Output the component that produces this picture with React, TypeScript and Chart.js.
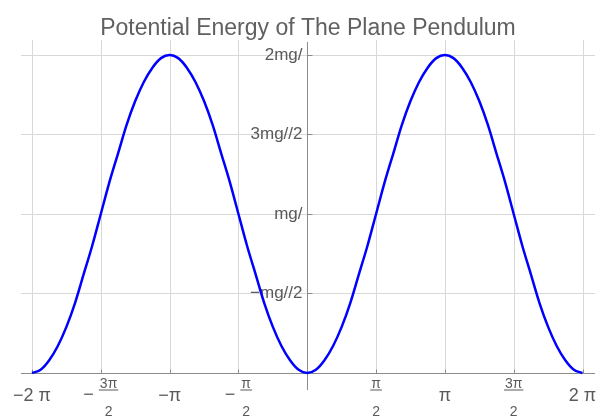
import React, { useEffect, useRef } from "react";
import { Chart, registerables } from "chart.js";

Chart.register(...registerables);

// θ in units of π (step 1/16)
const thetaInPi = [
  -2, -1.9375, -1.875, -1.8125, -1.75, -1.6875, -1.625, -1.5625,
  -1.5, -1.4375, -1.375, -1.3125, -1.25, -1.1875, -1.125, -1.0625,
  -1, -0.9375, -0.875, -0.8125, -0.75, -0.6875, -0.625, -0.5625,
  -0.5, -0.4375, -0.375, -0.3125, -0.25, -0.1875, -0.125, -0.0625,
  0, 0.0625, 0.125, 0.1875, 0.25, 0.3125, 0.375, 0.4375,
  0.5, 0.5625, 0.625, 0.6875, 0.75, 0.8125, 0.875, 0.9375,
  1, 1.0625, 1.125, 1.1875, 1.25, 1.3125, 1.375, 1.4375,
  1.5, 1.5625, 1.625, 1.6875, 1.75, 1.8125, 1.875, 1.9375, 2,
];
// potential energy in units of mgℓ
const energy = [
  0, 0.02, 0.08, 0.17, 0.29, 0.44, 0.62, 0.8,
  1, 1.2, 1.38, 1.56, 1.71, 1.83, 1.92, 1.98,
  2, 1.98, 1.92, 1.83, 1.71, 1.56, 1.38, 1.2,
  1, 0.8, 0.62, 0.44, 0.29, 0.17, 0.08, 0.02,
  0, 0.02, 0.08, 0.17, 0.29, 0.44, 0.62, 0.8,
  1, 1.2, 1.38, 1.56, 1.71, 1.83, 1.92, 1.98,
  2, 1.98, 1.92, 1.83, 1.71, 1.56, 1.38, 1.2,
  1, 0.8, 0.62, 0.44, 0.29, 0.17, 0.08, 0.02, 0,
];

const xTickPi = [-2, -1.5, -1, -0.5, 0.5, 1, 1.5, 2];
const xTickLabels = ["−2 π", "−3π/2", "−π", "−π/2", "π/2", "π", "3π/2", "2 π"];
const yTickValues = [0.5, 1, 1.5, 2];
const yTickLabels = ["−mg//2", "mg/", "3mg//2", "2mg/"];
const titleText = "Potential Energy of The Plane Pendulum";

const FONT = "'Liberation Sans', Arial, sans-serif";
const LABEL_COLOR = "#5a5a5a";
const GRID_COLOR = "#d8d8d8";
const AXIS_COLOR = "#8c8c8c";

const axesPlugin = {
  id: "mmaAxes",
  beforeDatasetsDraw(chart: any) {
    const { ctx, chartArea, scales } = chart;
    const xs = scales.x;
    const ys = scales.y;
    const x0 = Math.round(xs.getPixelForValue(0)) + 0.5;
    const y0 = Math.round(ys.getPixelForValue(0)) + 0.5;
    ctx.save();

    // grid lines
    ctx.strokeStyle = GRID_COLOR;
    ctx.lineWidth = 1;
    xTickPi.forEach((v) => {
      const px = Math.round(xs.getPixelForValue(v * Math.PI)) + 0.5;
      ctx.beginPath();
      ctx.moveTo(px, chartArea.top);
      ctx.lineTo(px, y0);
      ctx.stroke();
    });
    yTickValues.forEach((v) => {
      const py = Math.round(ys.getPixelForValue(v)) + 0.5;
      ctx.beginPath();
      ctx.moveTo(chartArea.left, py);
      ctx.lineTo(chartArea.right, py);
      ctx.stroke();
    });

    // axes
    ctx.strokeStyle = AXIS_COLOR;
    ctx.beginPath();
    ctx.moveTo(chartArea.left, y0);
    ctx.lineTo(chartArea.right, y0);
    ctx.moveTo(x0, chartArea.top + 2);
    ctx.lineTo(x0, chartArea.bottom);
    ctx.stroke();

    // tick marks
    ctx.beginPath();
    xTickPi.forEach((v) => {
      const px = Math.round(xs.getPixelForValue(v * Math.PI)) + 0.5;
      ctx.moveTo(px, y0);
      ctx.lineTo(px, y0 - 4);
    });
    yTickValues.forEach((v) => {
      const py = Math.round(ys.getPixelForValue(v)) + 0.5;
      ctx.moveTo(x0, py);
      ctx.lineTo(x0 + 5, py);
    });
    ctx.stroke();

    // y labels
    ctx.fillStyle = LABEL_COLOR;
    ctx.font = `17px ${FONT}`;
    ctx.textAlign = "right";
    ctx.textBaseline = "alphabetic";
    yTickValues.forEach((v, i) => {
      const py = ys.getPixelForValue(v);
      ctx.fillText(yTickLabels[i], x0 - 5, py + 5);
    });

    // x labels
    const big = `18px ${FONT}`;
    const small = `14px ${FONT}`;
    xTickPi.forEach((v, i) => {
      const px = xs.getPixelForValue(v * Math.PI);
      const label = xTickLabels[i];
      const m = label.match(/^(−?)(.+)\/(.+)$/);
      if (!m) {
        ctx.font = big;
        ctx.textAlign = "center";
        ctx.fillText(label, px, y0 + 27);
        return;
      }
      const sign = m[1];
      const num = m[2];
      const den = m[3];
      ctx.font = big;
      const sw = sign ? ctx.measureText(sign).width + 5 : 0;
      ctx.font = small;
      const fw = Math.max(ctx.measureText(num).width, ctx.measureText(den).width) + 2;
      const left = px - (sw + fw) / 2;
      if (sign) {
        ctx.font = big;
        ctx.textAlign = "left";
        ctx.fillText(sign, left, y0 + 26);
      }
      const fc = left + sw + fw / 2;
      ctx.font = small;
      ctx.textAlign = "center";
      ctx.fillText(num, fc, y0 + 14);
      ctx.fillText(den, fc, y0 + 42);
      ctx.fillRect(fc - fw / 2, y0 + 16, fw, 1);
    });

    // title
    ctx.font = `23px ${FONT}`;
    ctx.textAlign = "center";
    ctx.fillStyle = "#606060";
    ctx.fillText(titleText, 308, 35);

    ctx.restore();
  },
};

export default function App() {
  const canvasRef = useRef<HTMLCanvasElement | null>(null);

  useEffect(() => {
    document.body.style.margin = "0";
    const canvas = canvasRef.current;
    if (!canvas) return;
    const points = thetaInPi.map((t, i) => ({ x: t * Math.PI, y: energy[i] }));
    const chart = new Chart(canvas, {
      type: "line",
      data: {
        datasets: [
          {
            data: points,
            borderColor: "#0000ff",
            borderWidth: 2.5,
            pointRadius: 0,
            fill: false,
            cubicInterpolationMode: "monotone",
          },
        ],
      },
      options: {
        animation: false,
        responsive: false,
        devicePixelRatio: 1,
        layout: { padding: { left: 21, right: 5, top: 40, bottom: 26 } },
        plugins: {
          legend: { display: false },
          tooltip: { enabled: false },
          title: { display: false },
        },
        scales: {
          x: {
            type: "linear",
            display: false,
            min: -2 * Math.PI - 0.251,
            max: 2 * Math.PI + 0.285,
          },
          y: {
            type: "linear",
            display: false,
            min: -0.107,
            max: 2.094,
          },
        },
      },
      plugins: [axesPlugin],
    });
    return () => chart.destroy();
  }, []);

  return (
    <div style={{ width: 600, height: 416 }}>
      <canvas ref={canvasRef} width={600} height={416} style={{ display: "block" }} />
    </div>
  );
}
